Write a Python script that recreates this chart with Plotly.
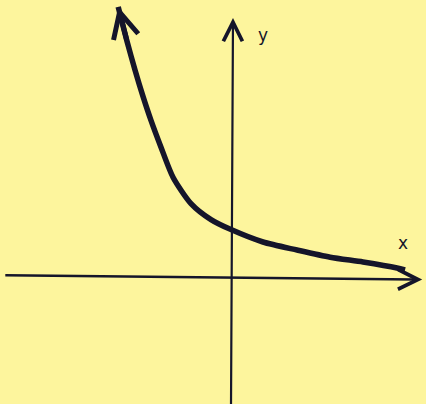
import plotly.graph_objects as go

# hand-drawn decay curve (1 unit = 40 px)
curve_x = [-2.82, -2.6, -2.4, -2.2, -2.0, -1.75, -1.45, -1.0, -0.5, 0.0,
           0.8, 1.65, 2.48, 3.3, 4.15, 4.35]
curve_y = [6.78, 5.92, 5.2, 4.54, 3.94, 3.27, 2.52, 1.86, 1.46, 1.21,
           0.9, 0.7, 0.52, 0.4, 0.25, 0.2]

# axis extents and labels
x_axis_from, x_axis_to = -5.68, 4.78
y_axis_from, y_axis_to = -3.2, 6.5
axis_labels = ["x", "y"]

ink = "#15152a"
paper = "#fdf59d"

fig = go.Figure()

fig.add_trace(go.Scatter(
    x=curve_x, y=curve_y,
    mode="lines",
    line=dict(color=ink, width=5.5, shape="spline", smoothing=0.7),
    hoverinfo="skip",
    showlegend=False,
))


def arrow(x0, y0, x1, y1, width, size):
    fig.add_annotation(
        x=x1, y=y1, ax=x0, ay=y0,
        xref="x", yref="y", axref="x", ayref="y",
        showarrow=True, arrowhead=5, arrowwidth=width, arrowsize=size,
        arrowcolor=ink, standoff=0, text="",
    )


# axes
arrow(x_axis_from, 0.07, x_axis_to, -0.04, 2.6, 1.5)
arrow(0.0, y_axis_from, 0.05, y_axis_to, 2.2, 1.7)

# arrowheads on both ends of the curve
arrow(curve_x[1], curve_y[1], curve_x[0], curve_y[0], 5, 1.0)
arrow(curve_x[-2], curve_y[-2], curve_x[-1], curve_y[-1], 5, 1.1)

fig.add_annotation(x=4.3, y=0.88, text=axis_labels[0], showarrow=False,
                   font=dict(size=17, color=ink, family="DejaVu Sans"))
fig.add_annotation(x=0.8, y=6.08, text=axis_labels[1], showarrow=False,
                   font=dict(size=17, color=ink, family="DejaVu Sans"))

fig.update_xaxes(range=[-5.775, 4.875], visible=False, fixedrange=True)
fig.update_yaxes(range=[-3.15, 6.95], visible=False, fixedrange=True)

fig.update_layout(
    width=426, height=404,
    margin=dict(l=0, r=0, t=0, b=0),
    paper_bgcolor=paper,
    plot_bgcolor=paper,
)

fig.write_html(
    "out.html",
    config={"displayModeBar": False},
    post_script="document.body.style.margin='0';"
                "document.body.style.overflow='hidden';",
)
